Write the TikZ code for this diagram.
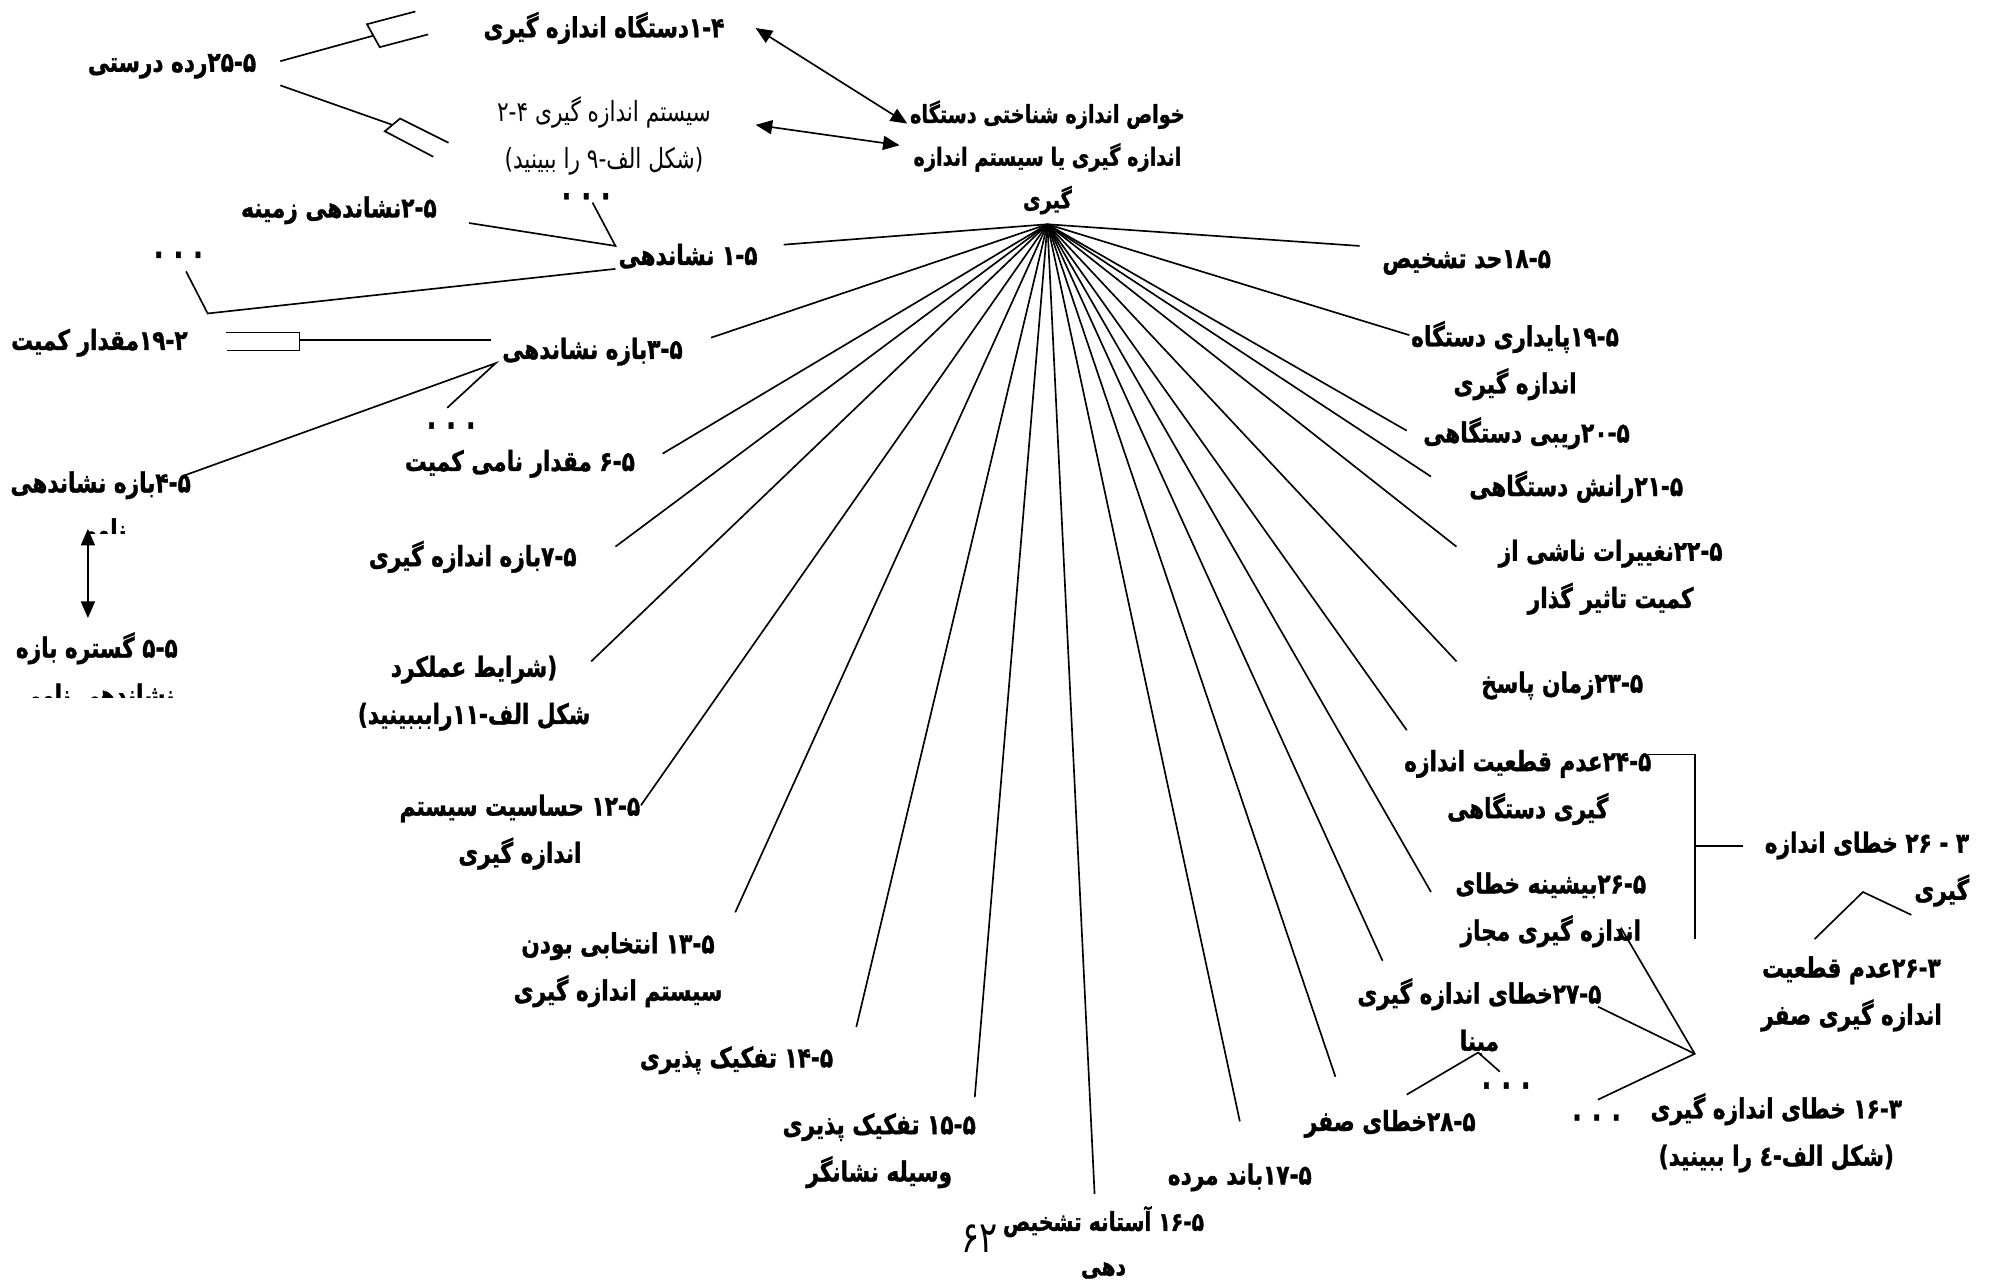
\documentclass[tikz,border=0pt]{standalone}
\usepackage{fontspec}
\newfontfamily\fa[Script=Arabic,FakeStretch=0.78,BoldFeatures={FakeBold=1.2}]{DejaVu Sans}
\TeXXeTstate=1
\newcommand{\rl}[1]{\beginR#1\endR}
\newcommand{\nm}[1]{\beginL#1\endL}
\usepackage{tikz}
\usetikzlibrary{arrows.meta}

\begin{document}
\begin{tikzpicture}[x=1pt,y=-1pt,line width=1.3pt,every node/.style={font=\fa\bfseries\fontsize{21.8}{37}\selectfont,align=center,inner sep=0pt},thin/.style={font=\fa\fontsize{21.8}{37}\selectfont},dots/.style={font=\fa\bfseries\fontsize{25}{27}\selectfont},dbl/.style={{Triangle[length=13pt,width=11pt]}-{Triangle[length=13pt,width=11pt]}}]
\useasboundingbox (0,0) rectangle (1568,1005);
% centre
\coordinate (hub) at (822,176);
\node[font=\fa\bfseries\fontsize{19.4}{33.5}\selectfont] (ctr) at (822,123.5) {\rl{خواص اندازه شناختی دستگاه}\\\rl{اندازه گیری یا سیستم اندازه}\\\rl{گیری}};
% top left
\node (n41) at (474,22) {\rl{\nm{۱-۴}دستگاه اندازه گیری}};
\node[thin] (n42) at (474,107) {\rl{سیستم اندازه گیری \nm{۲-۴}}\\\rl{(شکل الف-\nm{۹} را ببینید)}};
\node (n525) at (135,52) {\rl{\nm{۲۵-۵}رده درستی}};
\node (n52) at (266,165) {\rl{\nm{۲-۵}نشاندهی زمینه}};
\node (n51) at (540,201) {\rl{\nm{۱-۵} نشاندهی}};
\node (n219) at (78,269) {\rl{\nm{۱۹-۲}مقدار کمیت}};
\node (n53) at (465,276) {\rl{\nm{۳-۵}بازه نشاندهی}};
\node (n56) at (408,364) {\rl{\nm{۶-۵} مقدار نامی کمیت}};
\node (n57) at (371,437) {\rl{\nm{۷-۵}بازه اندازه گیری}};
\begin{scope}\clip (0,360) rectangle (220,419);
\node (n54) at (79,398) {\rl{\nm{۴-۵}بازه نشاندهی}\\\rl{نامی}};
\end{scope}
\begin{scope}\clip (0,490) rectangle (220,547);
\node (n55) at (76,526) {\rl{\nm{۵-۵} گستره بازه}\\\rl{نشاندهی نامی}};
\end{scope}
\node (n511) at (372,544) {\rl{(شرایط عملکرد}\\\rl{شکل الف-\nm{۱۱}رابببینید)}};
\node (n512) at (408,653) {\rl{\nm{۱۲-۵} حساسیت سیستم}\\\rl{اندازه گیری}};
\node (n513) at (485,761) {\rl{\nm{۱۳-۵} انتخابی بودن}\\\rl{سیستم اندازه گیری}};
\node (n514) at (578,832) {\rl{\nm{۱۴-۵} تفکیک پذیری}};
\node (n515) at (690,903) {\rl{\nm{۱۵-۵} تفکیک پذیری}\\\rl{وسیله نشانگر}};
\node[font=\fa\bfseries\fontsize{20.4}{35}\selectfont] (n516) at (866,975) {\rl{\nm{۱۶-۵} آستانه تشخیص}\\\rl{دهی}};
\node (n517) at (973,924) {\rl{\nm{۱۷-۵}باند مرده}};
\node[thin,font=\fa\fontsize{34}{36}\selectfont] (pg) at (769,972) {\rl{۶۲}};
% right side
\node (n518) at (1151,206) {\rl{\nm{۱۸-۵}حد تشخیص}};
\node (n519) at (1189,283) {\rl{\nm{۱۹-۵}پایداری دستگاه}\\\rl{اندازه گیری}};
\node (n520) at (1198,340) {\rl{\nm{۲۰-۵}ریبی دستگاهی}};
\node (n521) at (1237,382) {\rl{\nm{۲۱-۵}رانش دستگاهی}};
\node (n522) at (1264,453) {\rl{\nm{۲۲-۵}نغییرات ناشی از}\\\rl{کمیت تاثیر گذار}};
\node (n523) at (1226,538) {\rl{\nm{۲۳-۵}زمان پاسخ}};
\node (n524) at (1199,618) {\rl{\nm{۲۴-۵}عدم قطعیت اندازه}\\\rl{گیری دستگاهی}};
\node (n526) at (1217,714) {\rl{\nm{۲۶-۵}بیشینه خطای}\\\rl{اندازه گیری مجاز}};
\node (n527) at (1161,798) {\rl{\nm{۲۷-۵}خطای اندازه گیری}\\\rl{مبنا}};
\node (n528) at (1091,882) {\rl{\nm{۲۸-۵}خطای صفر}};
\node[anchor=east,align=right] (n326) at (1546,682) {\rl{\nm{۲۶ - ۳} خطای اندازه}\\\rl{گیری}};
\node (n3262) at (1453,780) {\rl{\nm{۲۶-۳}عدم قطعیت}\\\rl{اندازه گیری صفر}};
\node (n316) at (1394,889) {\rl{\nm{۱۶-۳} خطای اندازه گیری}\\\rl{(شکل الف-\nm{٤} را ببینید)}};
% dots
\node[dots] (d1) at (460,154) {.\hspace{8pt}.\hspace{8pt}.};
\node[dots] (d2) at (140,200) {.\hspace{8pt}.\hspace{8pt}.};
\node[dots] (d3) at (354,334) {.\hspace{8pt}.\hspace{8pt}.};
\node[dots] (d4) at (1182,852) {.\hspace{8pt}.\hspace{8pt}.};
\node[dots] (d5) at (1253,877) {.\hspace{8pt}.\hspace{8pt}.};
% spoke ends
\coordinate (e1) at (615,192);\coordinate (e3) at (558,265);\coordinate (e6) at (520,356);\coordinate (e7) at (483,429);\coordinate (e11) at (464,519);
\coordinate (e12) at (503,632);\coordinate (e13) at (577,716);\coordinate (e14) at (672,806);\coordinate (e15) at (765,861);\coordinate (e16) at (859,937);
\coordinate (e17) at (973,880);\coordinate (e28) at (1048,845);\coordinate (e27) at (1085,754);\coordinate (e26) at (1123,700);\coordinate (e24) at (1104,573);
\coordinate (e23) at (1143,519);\coordinate (e22) at (1143,429);\coordinate (e21) at (1123,374);\coordinate (e20) at (1104,338);\coordinate (e19) at (1106,263);\coordinate (e18) at (1067,193);
\draw (hub)--(e1);\draw (hub)--(e3);\draw (hub)--(e6);\draw (hub)--(e7);\draw (hub)--(e11);\draw (hub)--(e12);\draw (hub)--(e13);
\draw (hub)--(e14);\draw (hub)--(e15);\draw (hub)--(e16);\draw (hub)--(e17);\draw (hub)--(e28);\draw (hub)--(e27);\draw (hub)--(e26);
\draw (hub)--(e24);\draw (hub)--(e23);\draw (hub)--(e22);\draw (hub)--(e21);\draw (hub)--(e20);\draw (hub)--(e19);\draw (hub)--(e18);
% arrows to the centre
\coordinate (a1) at (593,22);\coordinate (a2) at (712,97);\coordinate (b1) at (593,98);\coordinate (b2) at (706,114);
\draw[dbl] (a1)--(a2);\draw[dbl] (b1)--(b2);
% forks of 25-5
\coordinate (f1) at (220,48);\coordinate (f2) at (293,28);\coordinate (f3) at (220,67);\coordinate (f4) at (308,98);
\draw (f1)--(f2);\draw (326,9)--(288,19)--(298,37)--(336,27);
\draw (f3)--(f4);\draw (352,112)--(314,93)--(302,103)--(340,123);
% branches of 1-5
\coordinate (j51a) at (483,193);\coordinate (j51b) at (483,211);\coordinate (k52) at (368,175);\coordinate (kd1) at (465,159);
\draw (k52)--(j51a)--(kd1);
\draw (j51b)--(163,246)--(146,213);
% fork of 19-2
\coordinate (j219) at (235,267);\coordinate (k53) at (385,267);
\draw (177,261)--(235,261)--(235,275)--(178,275);\draw (j219)--(k53);
% branches of 3-5
\coordinate (j53) at (389,285);\coordinate (kd3) at (351,320);\coordinate (k54) at (145,373);
\draw (kd3)--(j53)--(k54);
\coordinate (v1) at (69,415);\coordinate (v2) at (69,485);
\draw[dbl] (v1)--(v2);
% lower right
\coordinate (j27) at (1160,826);\coordinate (k28) at (1104,859);\coordinate (kd4) at (1177,841);
\draw (k28)--(j27)--(kd4);
\coordinate (jr) at (1330,827);\coordinate (k26) at (1272,728);\coordinate (k27) at (1254,790);\coordinate (kd5) at (1254,863);
\draw (k26)--(jr)--(kd5);\draw (k27)--(jr);
\draw (1293,592)--(1330,592)--(1330,737);\draw (1330,664)--(1368,664);
\draw (1424,737)--(1462,700)--(1500,718);
\end{tikzpicture}
\end{document}
